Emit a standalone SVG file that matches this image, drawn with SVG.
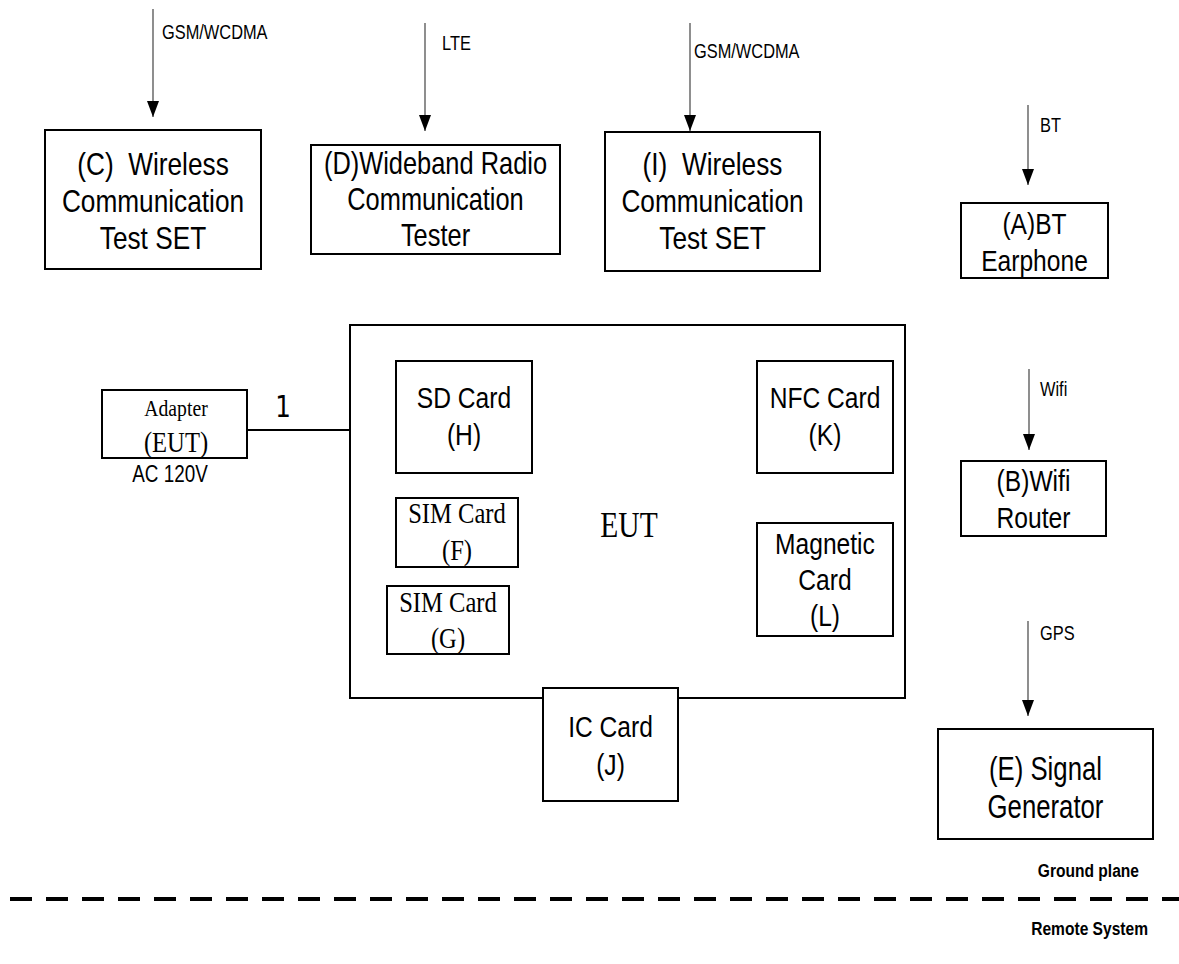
<svg xmlns="http://www.w3.org/2000/svg" width="1179" height="964" viewBox="0 0 1179 964">
<style>
.box{fill:#fff;stroke:#000;stroke-width:2}
.t{font-family:"Liberation Sans",Arial,sans-serif;fill:#000;text-anchor:middle}
.s{font-family:"Liberation Serif","Times New Roman",serif;fill:#000;text-anchor:middle}
.lbl{font-family:"Liberation Sans",Arial,sans-serif;font-size:20px;fill:#000}
.b{font-family:"Liberation Sans",Arial,sans-serif;font-weight:bold;font-size:19px;fill:#000;text-anchor:end}
.arr{stroke:#444;stroke-width:1.2;fill:none;marker-end:url(#ah)}
</style>
<defs>
<marker id="ah" viewBox="0 0 16 12" refX="16" refY="6" markerWidth="16" markerHeight="12" markerUnits="userSpaceOnUse" orient="auto">
<path d="M0,0 L16,6 L0,12 z" fill="#000"/>
</marker>
</defs>
<g id="connectors">
<line class="arr" x1="153" y1="9" x2="153" y2="117"/>
<line class="arr" x1="425" y1="23" x2="425" y2="131"/>
<line class="arr" x1="690" y1="23" x2="690" y2="131"/>
<line class="arr" x1="1028" y1="105" x2="1028" y2="185"/>
<line class="arr" x1="1029" y1="369" x2="1029" y2="450"/>
<line class="arr" x1="1028" y1="621" x2="1028" y2="716"/>
<line x1="247" y1="430" x2="350" y2="430" stroke="#000" stroke-width="2"/>
<text class="lbl" font-size="22" transform="translate(162,39) scale(0.82,1)">GSM/WCDMA</text>
<text class="lbl" font-size="19" transform="translate(442,50) scale(0.82,1)">LTE</text>
<text class="lbl" font-size="22" transform="translate(694,58) scale(0.82,1)">GSM/WCDMA</text>
<text class="lbl" transform="translate(1040,132) scale(0.82,1)">BT</text>
<text class="lbl" font-size="19" transform="translate(1040,396) scale(0.82,1)">Wifi</text>
<text class="lbl" transform="translate(1040,640) scale(0.82,1)">GPS</text>
<text font-family="DejaVu Sans,sans-serif" font-size="30" text-anchor="middle" transform="translate(283,417) scale(0.82,1)">1</text>
</g>
<g id="C">
<rect class="box" x="45" y="130" width="216" height="139"/>
<text class="t" font-size="32" transform="translate(153,174.5) scale(0.82,1)">(C)&#160; Wireless</text>
<text class="t" font-size="32" transform="translate(153,211.5) scale(0.82,1)">Communication</text>
<text class="t" font-size="32" transform="translate(153,248.5) scale(0.82,1)">Test SET</text>
</g>
<g id="D">
<rect class="box" x="311" y="145" width="249" height="109"/>
<text class="t" font-size="31" transform="translate(435.5,174) scale(0.82,1)">(D)Wideband Radio</text>
<text class="t" font-size="31" transform="translate(435.5,210) scale(0.82,1)">Communication</text>
<text class="t" font-size="31" transform="translate(435.5,246) scale(0.82,1)">Tester</text>
</g>
<g id="I">
<rect class="box" x="605" y="132" width="215" height="139"/>
<text class="t" font-size="32" transform="translate(712.5,174.5) scale(0.82,1)">(I)&#160; Wireless</text>
<text class="t" font-size="32" transform="translate(712.5,211.5) scale(0.82,1)">Communication</text>
<text class="t" font-size="32" transform="translate(712.5,248.5) scale(0.82,1)">Test SET</text>
</g>
<g id="A">
<rect class="box" x="961" y="203" width="147" height="75"/>
<text class="t" font-size="30" transform="translate(1034.5,233.7) scale(0.82,1)">(A)BT</text>
<text class="t" font-size="30" transform="translate(1034.5,270.7) scale(0.82,1)">Earphone</text>
</g>
<g id="EUT">
<rect class="box" x="350" y="325" width="555" height="373"/>
<text class="s" font-size="36" transform="translate(629,537) scale(0.82,1)">EUT</text>
</g>
<g id="Adapter">
<rect class="box" x="102" y="390" width="145" height="68"/>
<text class="s" font-size="24" transform="translate(176,416) scale(0.82,1)">Adapter</text>
<text class="s" font-size="30" transform="translate(176,452) scale(0.82,1)">(EUT)</text>
<text class="t" font-size="23" transform="translate(170,482) scale(0.82,1)">AC 120V</text>
</g>
<g id="H">
<rect class="box" x="396" y="361" width="136" height="112"/>
<text class="t" font-size="30" transform="translate(464,407.7) scale(0.82,1)">SD Card</text>
<text class="t" font-size="30" transform="translate(464,444.7) scale(0.82,1)">(H)</text>
</g>
<g id="F">
<rect class="box" x="396" y="498" width="122" height="69"/>
<text class="s" font-size="30" transform="translate(457,523) scale(0.82,1)">SIM Card</text>
<text class="s" font-size="30" transform="translate(457,560) scale(0.82,1)">(F)</text>
</g>
<g id="G">
<rect class="box" x="387" y="586" width="122" height="68"/>
<text class="s" font-size="30" transform="translate(448,612) scale(0.82,1)">SIM Card</text>
<text class="s" font-size="30" transform="translate(448,648) scale(0.82,1)">(G)</text>
</g>
<g id="K">
<rect class="box" x="757" y="361" width="136" height="112"/>
<text class="t" font-size="30" transform="translate(825,407.7) scale(0.82,1)">NFC Card</text>
<text class="t" font-size="30" transform="translate(825,444.7) scale(0.82,1)">(K)</text>
</g>
<g id="L">
<rect class="box" x="757" y="523" width="136" height="113"/>
<text class="t" font-size="30" transform="translate(825,553.7) scale(0.82,1)">Magnetic</text>
<text class="t" font-size="30" transform="translate(825,589.7) scale(0.82,1)">Card</text>
<text class="t" font-size="30" transform="translate(825,625.7) scale(0.82,1)">(L)</text>
</g>
<g id="J">
<rect class="box" x="543" y="688" width="135" height="113"/>
<text class="t" font-size="30" transform="translate(610.5,736.7) scale(0.82,1)">IC Card</text>
<text class="t" font-size="30" transform="translate(610.5,774.7) scale(0.82,1)">(J)</text>
</g>
<g id="B">
<rect class="box" x="961" y="461" width="145" height="75"/>
<text class="t" font-size="30" transform="translate(1033.5,490.7) scale(0.82,1)">(B)Wifi</text>
<text class="t" font-size="30" transform="translate(1033.5,527.7) scale(0.82,1)">Router</text>
</g>
<g id="E">
<rect class="box" x="938" y="729" width="215" height="110"/>
<text class="t" font-size="33" transform="translate(1045.5,780) scale(0.78,1)">(E) Signal</text>
<text class="t" font-size="33" transform="translate(1045.5,818) scale(0.78,1)">Generator</text>
</g>
<g id="ground">
<text class="b" transform="translate(1139,877) scale(0.82,1)">Ground plane</text>
<line x1="10" y1="899" x2="1179" y2="899" stroke="#000" stroke-width="4" stroke-dasharray="22 14"/>
<text class="b" transform="translate(1148,935) scale(0.82,1)">Remote System</text>
</g>
</svg>
